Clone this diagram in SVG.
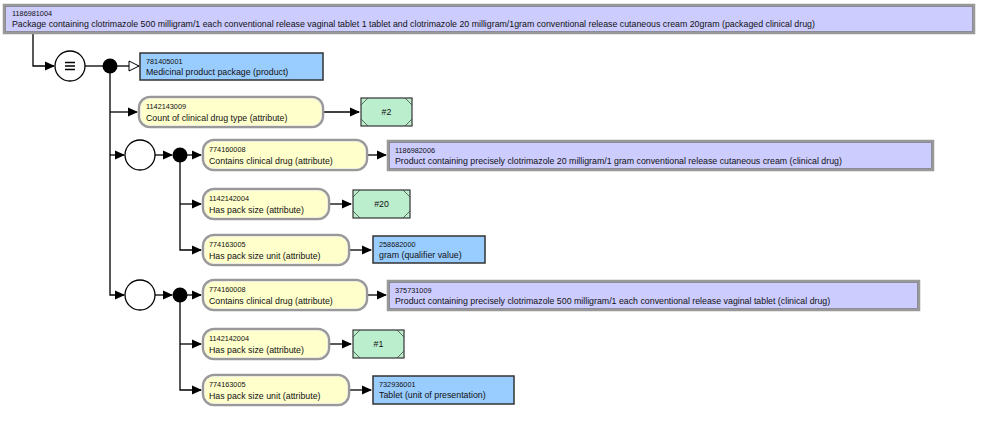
<svg xmlns="http://www.w3.org/2000/svg" width="1000" height="445" viewBox="0 0 1000 445">
<defs>
<marker id="arr" markerWidth="10" markerHeight="10" refX="9" refY="5" orient="auto" markerUnits="userSpaceOnUse">
<path d="M0,0.5 L10,5 L0,9.5 Z" fill="#000"/>
</marker>
<marker id="open" markerWidth="12" markerHeight="12" refX="11" refY="6" orient="auto" markerUnits="userSpaceOnUse">
<path d="M1,1 L11,6 L1,11 Z" fill="#fff" stroke="#000" stroke-width="1"/>
</marker>
<style>
text{font-family:"Liberation Sans",Arial,sans-serif;fill:#111}
.id{font-size:7.3px}
.lb{font-size:8.8px}
.def{fill:#CCCCFF;stroke:#999;stroke-width:2.5}
.defin{fill:none;stroke:#777;stroke-width:0.7}
.prim{fill:#99CCFF;stroke:#333;stroke-width:1.5}
.attr{fill:#FFFFCC;stroke:#999;stroke-width:2.5}
.attrin{fill:none;stroke:#eee;stroke-width:0.8}
.val{fill:#BBEECC;stroke:#333;stroke-width:1.2}
.cor{stroke:#333;stroke-width:0.7;fill:none}
.ln{stroke:#000;stroke-width:1.3;fill:none}
.circ{fill:#fff;stroke:#000;stroke-width:1.3}
.dot{fill:#000}
</style>
</defs>

<g id="connectors">
<path class="ln" d="M33,33 V66 H54" marker-end="url(#arr)"/>
<path class="ln" d="M85,66 H103"/>
<path class="ln" d="M117,66 H139" marker-end="url(#open)"/>
<path class="ln" d="M110,66 V295 H124" marker-end="url(#arr)"/>
<path class="ln" d="M110,112 H137" marker-end="url(#arr)"/>
<path class="ln" d="M110,155 H124" marker-end="url(#arr)"/>
<path class="ln" d="M323,112 H359" marker-end="url(#arr)"/>
<path class="ln" d="M155,155 H172" marker-end="url(#arr)"/>
<path class="ln" d="M187,155 H201" marker-end="url(#arr)"/>
<path class="ln" d="M180,155 V250 H201" marker-end="url(#arr)"/>
<path class="ln" d="M180,204 H201" marker-end="url(#arr)"/>
<path class="ln" d="M367,155 H386" marker-end="url(#arr)"/>
<path class="ln" d="M329,204 H351" marker-end="url(#arr)"/>
<path class="ln" d="M349,250 H371" marker-end="url(#arr)"/>
<path class="ln" d="M155,295 H172" marker-end="url(#arr)"/>
<path class="ln" d="M187,295 H201" marker-end="url(#arr)"/>
<path class="ln" d="M180,295 V390 H201" marker-end="url(#arr)"/>
<path class="ln" d="M180,344 H201" marker-end="url(#arr)"/>
<path class="ln" d="M367,295 H386" marker-end="url(#arr)"/>
<path class="ln" d="M329,344 H351" marker-end="url(#arr)"/>
<path class="ln" d="M349,390 H371" marker-end="url(#arr)"/>
</g>

<g id="n1186981004">
<rect class="def" x="4" y="5" width="970" height="28"/>
<rect class="defin" x="5.5" y="6.5" width="967" height="25"/>
<text class="id" x="12" y="16">1186981004</text>
<text class="lb" x="12" y="27">Package containing clotrimazole 500 milligram/1 each conventional release vaginal tablet 1 tablet and clotrimazole 20 milligram/1gram conventional release cutaneous cream 20gram (packaged clinical drug)</text>
</g>

<g id="equiv">
<circle class="circ" cx="70" cy="66" r="15"/>
<path d="M65,62.5 H75 M65,66 H75 M65,69.5 H75" stroke="#000" stroke-width="1.4"/>
</g>
<g id="conj0"><circle class="dot" cx="110" cy="66" r="7.5"/></g>

<g id="n781405001">
<rect class="prim" x="140" y="53" width="183" height="27"/>
<text class="id" x="146" y="64">781405001</text>
<text class="lb" x="146" y="75">Medicinal product package (product)</text>
</g>

<g id="a1142143009">
<rect class="attr" x="139" y="97" width="184" height="30" rx="11"/>
<rect class="attrin" x="140.5" y="98.5" width="181" height="27" rx="9.5"/>
<text class="id" x="146" y="109">1142143009</text>
<text class="lb" x="146" y="121">Count of clinical drug type (attribute)</text>
</g>
<g id="v2">
<rect class="val" x="361" y="98" width="51" height="28"/>
<path class="cor" d="M368,98 L361,105 M405,98 L412,105 M361,119 L368,126 M412,119 L405,126"/>
<text class="lb" x="386.5" y="115" text-anchor="middle">#2</text>
</g>

<g id="group1"><circle class="circ" cx="140" cy="155" r="15"/></g>
<g id="conj1"><circle class="dot" cx="180" cy="155" r="7.5"/></g>

<g id="a774160008a">
<rect class="attr" x="203" y="140" width="164" height="30" rx="11"/>
<rect class="attrin" x="204.5" y="141.5" width="161" height="27" rx="9.5"/>
<text class="id" x="209" y="152">774160008</text>
<text class="lb" x="209" y="164">Contains clinical drug (attribute)</text>
</g>
<g id="n1186982006">
<rect class="def" x="388" y="141" width="545" height="29"/>
<rect class="defin" x="389.5" y="142.5" width="542" height="26"/>
<text class="id" x="395" y="153">1186982006</text>
<text class="lb" x="395" y="164">Product containing precisely clotrimazole 20 milligram/1 gram conventional release cutaneous cream (clinical drug)</text>
</g>

<g id="a1142142004a">
<rect class="attr" x="203" y="189" width="126" height="30" rx="11"/>
<rect class="attrin" x="204.5" y="190.5" width="123" height="27" rx="9.5"/>
<text class="id" x="209" y="201">1142142004</text>
<text class="lb" x="209" y="213">Has pack size (attribute)</text>
</g>
<g id="v20">
<rect class="val" x="353" y="190" width="57" height="28"/>
<path class="cor" d="M360,190 L353,197 M403,190 L410,197 M353,211 L360,218 M410,211 L403,218"/>
<text class="lb" x="381.5" y="207" text-anchor="middle">#20</text>
</g>

<g id="a774163005a">
<rect class="attr" x="203" y="235" width="146" height="30" rx="11"/>
<rect class="attrin" x="204.5" y="236.5" width="143" height="27" rx="9.5"/>
<text class="id" x="209" y="247">774163005</text>
<text class="lb" x="209" y="259">Has pack size unit (attribute)</text>
</g>
<g id="n258682000">
<rect class="prim" x="373" y="236" width="112" height="27"/>
<text class="id" x="379" y="247">258682000</text>
<text class="lb" x="379" y="258">gram (qualifier value)</text>
</g>

<g id="group2"><circle class="circ" cx="140" cy="295" r="15"/></g>
<g id="conj2"><circle class="dot" cx="180" cy="295" r="7.5"/></g>

<g id="a774160008b">
<rect class="attr" x="203" y="280" width="164" height="30" rx="11"/>
<rect class="attrin" x="204.5" y="281.5" width="161" height="27" rx="9.5"/>
<text class="id" x="209" y="292">774160008</text>
<text class="lb" x="209" y="304">Contains clinical drug (attribute)</text>
</g>
<g id="n375731009">
<rect class="def" x="388" y="281" width="531" height="29"/>
<rect class="defin" x="389.5" y="282.5" width="528" height="26"/>
<text class="id" x="395" y="293">375731009</text>
<text class="lb" x="395" y="304">Product containing precisely clotrimazole 500 milligram/1 each conventional release vaginal tablet (clinical drug)</text>
</g>

<g id="a1142142004b">
<rect class="attr" x="203" y="329" width="126" height="30" rx="11"/>
<rect class="attrin" x="204.5" y="330.5" width="123" height="27" rx="9.5"/>
<text class="id" x="209" y="341">1142142004</text>
<text class="lb" x="209" y="353">Has pack size (attribute)</text>
</g>
<g id="v1">
<rect class="val" x="353" y="330" width="51" height="28"/>
<path class="cor" d="M360,330 L353,337 M397,330 L404,337 M353,351 L360,358 M404,351 L397,358"/>
<text class="lb" x="378.5" y="347" text-anchor="middle">#1</text>
</g>

<g id="a774163005b">
<rect class="attr" x="203" y="375" width="146" height="30" rx="11"/>
<rect class="attrin" x="204.5" y="376.5" width="143" height="27" rx="9.5"/>
<text class="id" x="209" y="387">774163005</text>
<text class="lb" x="209" y="399">Has pack size unit (attribute)</text>
</g>
<g id="n732936001">
<rect class="prim" x="373" y="376" width="141" height="28"/>
<text class="id" x="379" y="387">732936001</text>
<text class="lb" x="379" y="398">Tablet (unit of presentation)</text>
</g>
</svg>
